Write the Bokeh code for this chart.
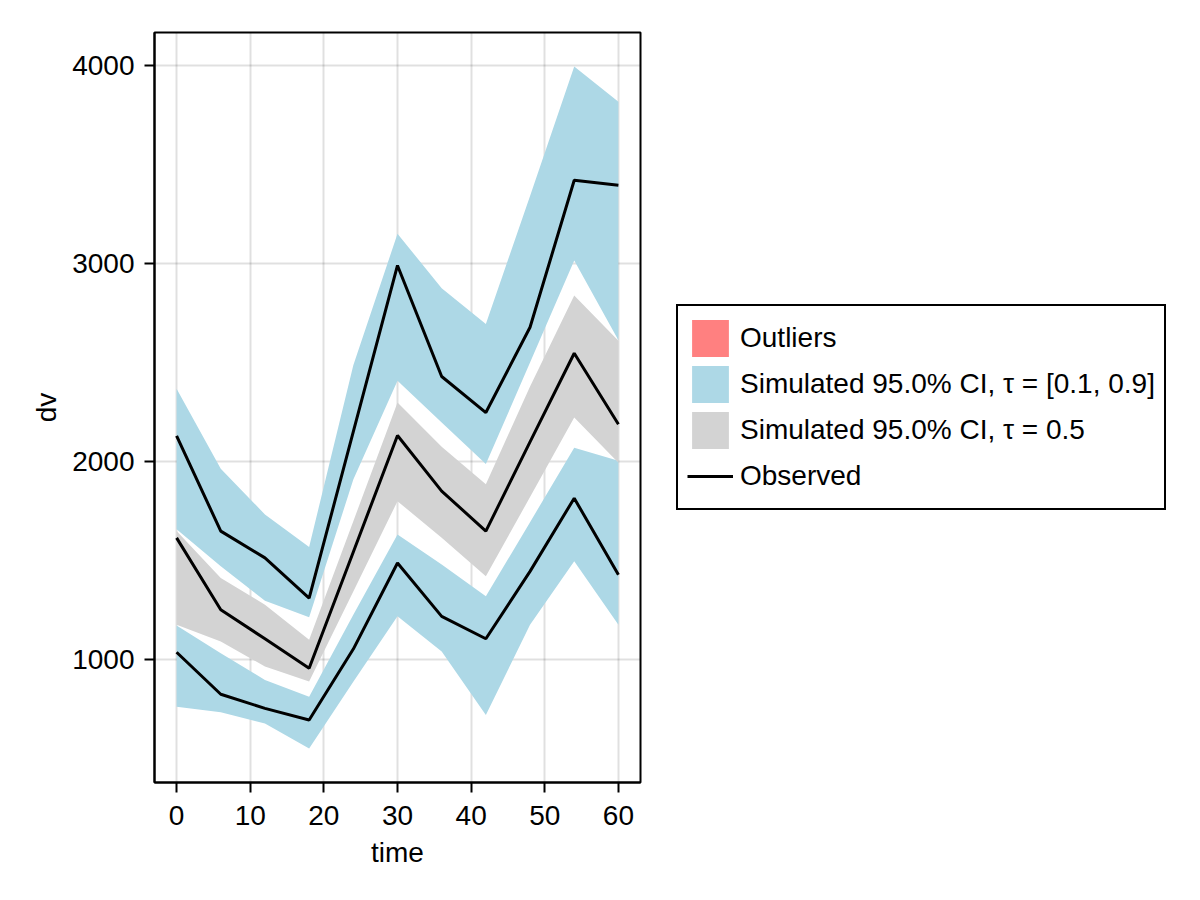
from bokeh.plotting import figure
from bokeh.layouts import row
from bokeh.models import ColumnDataSource, Legend, LegendItem, Range1d, FixedTicker
from bokeh.embed import file_html
from bokeh.resources import INLINE

# ---- data ----
time = [0, 6, 12, 18, 24, 30, 36, 42, 48, 54, 60]

obs_q10 = [1039, 827, 756, 697, 1055, 1489, 1220, 1107, 1447, 1816, 1430]
obs_q50 = [1616, 1253, 1107, 958, 1545, 2132, 1852, 1650, 2100, 2547, 2189]
obs_q90 = [2130, 1650, 1515, 1312, 2152, 2990, 2430, 2248, 2678, 3420, 3395]

ci10_lo = [764, 736, 680, 554, 890, 1220, 1043, 722, 1178, 1498, 1178]
ci10_hi = [1174, 1034, 899, 815, 1228, 1633, 1481, 1321, 1695, 2071, 2005]

ci50_lo = [1178, 1093, 967, 891, 1346, 1801, 1616, 1422, 1822, 2223, 1995]
ci50_hi = [1650, 1413, 1279, 1102, 1700, 2299, 2075, 1886, 2380, 2838, 2610]

ci90_lo = [1660, 1473, 1299, 1216, 1910, 2408, 2198, 1988, 2500, 3015, 2613]
ci90_hi = [2368, 1965, 1734, 1570, 2487, 3150, 2875, 2695, 3340, 3993, 3816]

xticks = [0, 10, 20, 30, 40, 50, 60]
yticks = [1000, 2000, 3000, 4000]

labels = ["Outliers",
          "Simulated 95.0% CI, \u03c4 = [0.1, 0.9]",
          "Simulated 95.0% CI, \u03c4 = 0.5",
          "Observed"]

BLUE = "#ADD8E6"
GREY = "#D3D3D3"
OUTLIER = "#FF8080"
FONT = "Liberation Sans"

src = ColumnDataSource(dict(time=time, obs_q10=obs_q10, obs_q50=obs_q50, obs_q90=obs_q90,
                            ci10_lo=ci10_lo, ci10_hi=ci10_hi, ci50_lo=ci50_lo, ci50_hi=ci50_hi,
                            ci90_lo=ci90_lo, ci90_hi=ci90_hi))

# auto-like limits with 5% padding
xmin, xmax = min(time), max(time)
ymin = min(ci10_lo + ci50_lo + ci90_lo + obs_q10)
ymax = max(ci90_hi + obs_q90)
xpad = 0.05 * (xmax - xmin)
ypad = 0.05 * (ymax - ymin)

H = 890
W1 = 642
p = figure(width=W1, height=H, output_backend="svg", toolbar_location=None,
           x_range=Range1d(xmin - xpad, xmax + xpad),
           y_range=Range1d(ymin - ypad, ymax + ypad),
           min_border_left=154, min_border_top=32,
           min_border_right=2, min_border_bottom=H - 32 - 750)

p.background_fill_color = "white"
p.border_fill_color = "white"
p.outline_line_color = "black"
p.outline_line_width = 2

r_b1 = p.varea(x="time", y1="ci10_lo", y2="ci10_hi", source=src, fill_color=BLUE)
r_b2 = p.varea(x="time", y1="ci90_lo", y2="ci90_hi", source=src, fill_color=BLUE)
r_g = p.varea(x="time", y1="ci50_lo", y2="ci50_hi", source=src, fill_color=GREY)
r_l1 = p.line(x="time", y="obs_q10", source=src, line_color="black", line_width=3)
r_l2 = p.line(x="time", y="obs_q50", source=src, line_color="black", line_width=3)
r_l3 = p.line(x="time", y="obs_q90", source=src, line_color="black", line_width=3)

for ax in (p.xaxis[0], p.yaxis[0]):
    ax.axis_line_color = "black"
    ax.axis_line_width = 2
    ax.major_tick_line_color = "black"
    ax.major_tick_line_width = 2
    ax.major_tick_out = 10
    ax.major_tick_in = 0
    ax.minor_tick_line_color = None
    ax.major_label_text_font = FONT
    ax.major_label_text_font_size = "28px"
    ax.major_label_text_color = "black"
    ax.axis_label_text_font = FONT
    ax.axis_label_text_font_size = "28px"
    ax.axis_label_text_font_style = "normal"
    ax.axis_label_text_color = "black"

p.xaxis.ticker = FixedTicker(ticks=xticks)
p.yaxis.ticker = FixedTicker(ticks=yticks)
p.xaxis.axis_label = "time"
p.yaxis.axis_label = "dv"
p.xaxis.major_label_standoff = 13
p.yaxis.major_label_standoff = 10
p.xaxis.axis_label_standoff = 9
p.yaxis.axis_label_standoff = 7

for g in (p.xgrid[0], p.ygrid[0]):
    g.grid_line_color = "black"
    g.grid_line_alpha = 0.12
    g.grid_line_width = 2
p.xgrid.ticker = FixedTicker(ticks=xticks)
p.ygrid.ticker = FixedTicker(ticks=yticks)

# ---- legend panel (second figure, no axes); its glyphs use the same data,
#      which falls outside this panel's ranges, so only the legend shows ----
W2 = 548
q = figure(width=W2, height=H, output_backend="svg", toolbar_location=None,
           x_range=Range1d(-1, 0), y_range=Range1d(0, 1),
           x_axis_type=None, y_axis_type=None,
           min_border_left=0, min_border_right=0, min_border_top=0, min_border_bottom=0)
q.outline_line_color = None
q.grid.visible = False
q.background_fill_color = "white"
q.border_fill_color = "white"

e_out = q.varea(x="time", y1="ci90_lo", y2="ci90_hi", source=src, fill_color=OUTLIER)
e_blue = q.varea(x="time", y1="ci90_lo", y2="ci90_hi", source=src, fill_color=BLUE)
e_grey = q.varea(x="time", y1="ci50_lo", y2="ci50_hi", source=src, fill_color=GREY)
e_line = q.line(x="time", y="obs_q50", source=src, line_color="black", line_width=3)

legend = Legend(items=[
    LegendItem(label=labels[0], renderers=[e_out]),
    LegendItem(label=labels[1], renderers=[e_blue]),
    LegendItem(label=labels[2], renderers=[e_grey]),
    LegendItem(label=labels[3], renderers=[e_line]),
], location=(34, H - 508 - 110))
legend.label_text_font = FONT
legend.label_text_font_size = "28px"
legend.label_text_color = "black"
legend.glyph_width = 46
legend.glyph_height = 46
legend.spacing = 0
legend.padding = 9
legend.label_standoff = 7
legend.margin = 0
legend.border_line_color = "black"
legend.border_line_alpha = 1
legend.border_line_width = 2
legend.background_fill_color = "white"
legend.background_fill_alpha = 1
q.add_layout(legend, "center")

layout = row(p, q)
open("out.html", "w").write(file_html(layout, INLINE))
